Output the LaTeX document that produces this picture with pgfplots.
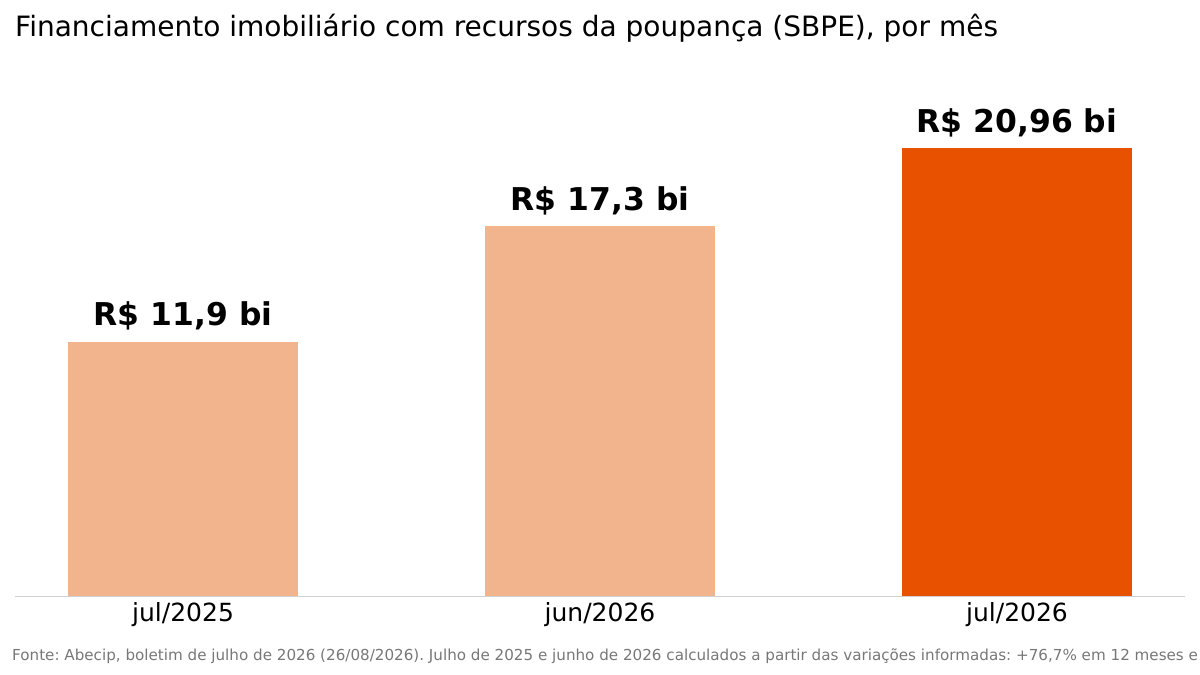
\documentclass[border=0pt]{standalone}
\usepackage{fontspec}
\setmainfont{DejaVu Sans}
\usepackage{pgfplots}
\pgfplotsset{compat=1.18}
\definecolor{barlight}{HTML}{F2B48C}
\definecolor{bardark}{HTML}{E85100}
\definecolor{footgray}{HTML}{777777}
\definecolor{baseline}{HTML}{D0D0D0}
\frenchspacing

\begin{document}
\begin{tikzpicture}[x=1pt,y=1pt]
	\useasboundingbox (0,0) rectangle (1200,675);
	\node[anchor=base west, inner sep=0pt, font=\fontsize{28}{32}\selectfont]
		at (15,638) {Financiamento imobiliário com recursos da poupança (SBPE), por mês};
	\begin{axis}[%
		at = {(15pt,79pt)},
		anchor = south west,
		scale only axis,
		width = 1170pt,
		height = 512.9pt,
		xmin = -0.403, xmax = 2.403,
		ymin = 0, ymax = 24,
		clip = false,
		ybar,
		bar width = 230pt,
		bar shift = 0pt,
		axis y line = none,
		axis x line* = bottom,
		x axis line style = {draw=baseline, line width=1pt},
		xtick = {0,1,2},
		xticklabels = {jul/2025, jun/2026, jul/2026},
		xtick style = {draw=none},
		x tick label style = {anchor=base, inner sep=0pt, yshift=-21pt,
			font=\fontsize{25}{30}\selectfont},
		ytick = \empty,
		point meta = explicit symbolic,
		nodes near coords,
		nodes near coords style = {anchor=base, inner sep=0pt, yshift=16pt,
			text=black, font=\bfseries\fontsize{31.4}{36}\selectfont},
	]
		\addplot [fill=barlight, draw=none] coordinates {
			(0,11.9) [R\$ 11,9 bi]
		};
		\addplot [fill=barlight, draw=none] coordinates {
			(1,17.3) [R\$ 17,3 bi]
		};
		\addplot [fill=bardark, draw=none] coordinates {
			(2,20.96) [R\$ 20,96 bi]
		};
	\end{axis}
	\node[anchor=base west, inner sep=0pt, text=footgray, font=\fontsize{15.15}{18}\selectfont]
		at (12,15) {Fonte: Abecip, boletim de julho de 2026 (26/08/2026). Julho de 2025 e junho de 2026 calculados a partir das variações informadas: +76,7\% em 12 meses e};
\end{tikzpicture}
\end{document}
